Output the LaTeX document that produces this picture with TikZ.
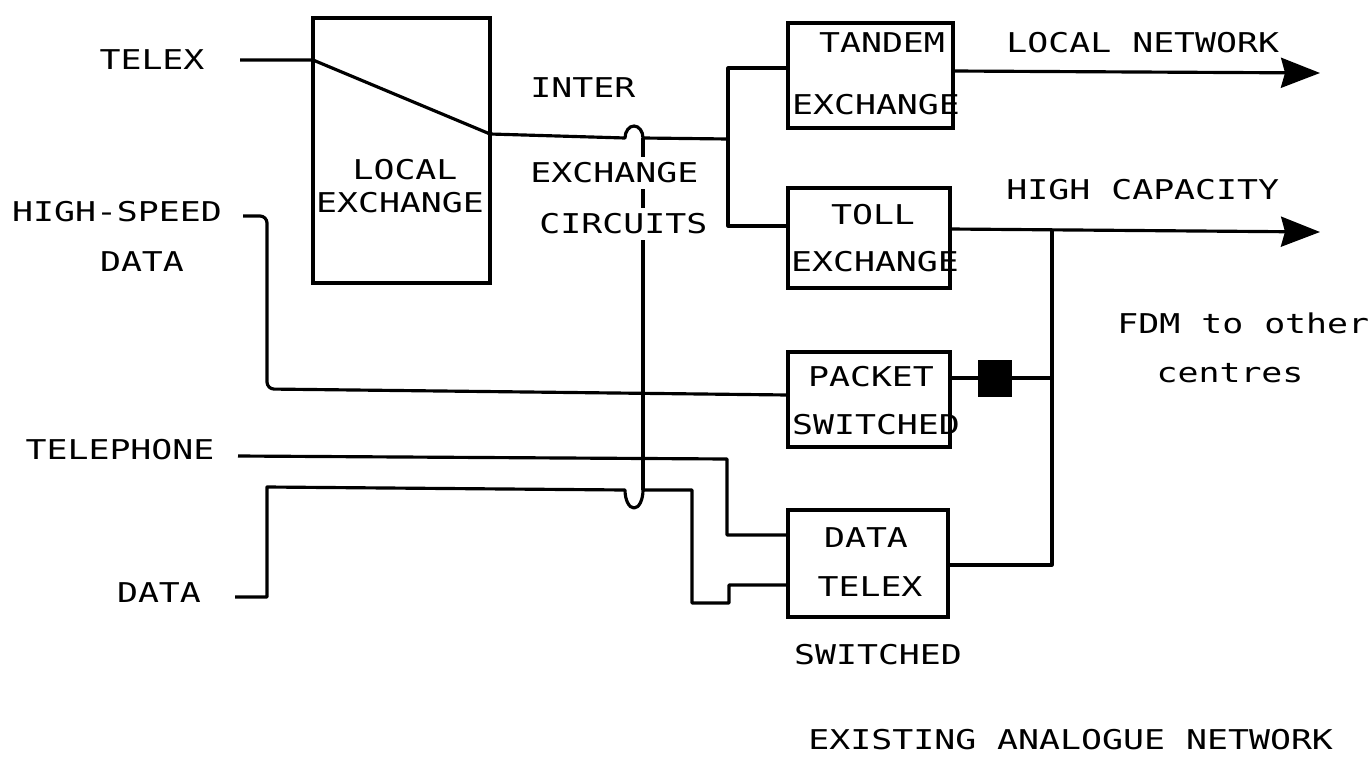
\documentclass[tikz,border=0pt]{standalone}
\usepackage{fontspec}
\newfontfamily\plotfont[FakeStretch=1.28]{DejaVu Sans Mono}
\usetikzlibrary{arrows.meta}
\tikzset{
  box/.style={draw, line width=1.8pt, rectangle, inner sep=0pt},
  wire/.style={line width=1.8pt, line join=round},
  arr/.style={wire, -{Stealth[length=0.78cm,width=0.6cm,inset=0.08cm]}},
  lbl/.style={font=\plotfont\fontsize{15.5}{17}\selectfont, inner sep=0pt, text=black},
  mask/.style={lbl, fill=white, inner ysep=3pt}
}
\begin{document}
\begin{tikzpicture}[x=0.02cm,y=-0.02cm]
\useasboundingbox (0,0) rectangle (1371,757);
% boxes
\node[box, minimum width=3.54cm, minimum height=5.3cm] (lex) at (401.5,150.5) {};
\node[box, minimum width=3.3cm, minimum height=2.1cm] (tan) at (870.5,75.5) {};
\node[box, minimum width=3.24cm, minimum height=2cm] (tol) at (869,238) {};
\node[box, minimum width=3.24cm, minimum height=1.9cm] (pkt) at (869,399.5) {};
\node[box, minimum width=3.2cm, minimum height=2.14cm] (dtx) at (868,563.5) {};
\node[draw, fill=black, minimum width=0.66cm, minimum height=0.72cm, inner sep=0pt] (blk) at (994.5,378) {};
% coordinates
\coordinate (telexS) at (240,60);
\coordinate (telexA) at (313,60);
\coordinate (telexB) at (490,134);
\coordinate (hopA) at (625,138);
\coordinate (j1) at (728,139);
\coordinate (tanIn) at (788,68);
\coordinate (tolIn) at (788,226);
\coordinate (vTop) at (643,138);
\coordinate (vBot) at (643,490);
\coordinate (tanOut) at (953,71);
\coordinate (lnEnd) at (1320,73);
\coordinate (tolOut) at (950,229);
\coordinate (hcEnd) at (1320,232);
\coordinate (j2) at (1052,229);
\coordinate (j3) at (1052,565);
\coordinate (dtxOut) at (948,565);
\coordinate (pktOut) at (950,378);
\coordinate (jp) at (1052,378);
\coordinate (hsS) at (243,216);
\coordinate (hsA) at (267,216);
\coordinate (hsB) at (267,389);
\coordinate (pktIn) at (788,395);
\coordinate (telS) at (238,456);
\coordinate (telA) at (727,459);
\coordinate (telB) at (727,535);
\coordinate (dtxIn1) at (788,535);
\coordinate (dS) at (235,597);
\coordinate (dA) at (267,597);
\coordinate (dB) at (267,487);
\coordinate (hopB) at (625,490);
\coordinate (dC) at (692,490);
\coordinate (dD) at (692,603);
\coordinate (dE) at (729,603);
\coordinate (dF) at (729,585);
\coordinate (dtxIn2) at (788,585);
% connectors
\draw[wire] (vTop) -- (vBot);
\draw[wire] (telexS) -- (telexA) -- (telexB) -- (hopA) arc[start angle=180,end angle=360,x radius=9,y radius=12] -- (j1);
\draw[wire] (tanIn) -| (j1) |- (tolIn);
\draw[arr] (tanOut) -- (lnEnd);
\draw[arr] (tolOut) -- (hcEnd);
\draw[wire] (j2) -- (j3) -- (dtxOut);
\draw[wire] (pktOut) -- (blk);
\draw[wire] (blk) -- (jp);
\draw[wire, rounded corners=4pt] (hsS) -- (hsA) -- (hsB) -- (pktIn);
\draw[wire] (telS) -- (telA) -- (telB) -- (dtxIn1);
\draw[wire] (dS) -- (dA) -- (dB) -- (hopB) arc[start angle=180,end angle=0,x radius=9,y radius=18] -- (dC) -- (dD) -- (dE) -- (dF) -- (dtxIn2);
% labels
\node[lbl] (tTelex) at (152,60) {TELEX};
\node[lbl] (tHS) at (117,212) {HIGH-SPEED};
\node[lbl] (tHSD) at (142,262) {DATA};
\node[lbl] (tTel) at (120,450) {TELEPHONE};
\node[lbl] (tData) at (159,593) {DATA};
\node[lbl] (tLocal) at (405,170) {LOCAL};
\node[lbl] (tLex) at (400,203) {EXCHANGE};
\node[lbl, anchor=west] (tInter) at (530,88) {INTER};
\node[mask, anchor=west] (tIE) at (530,173) {EXCHANGE};
\node[mask, anchor=west] (tIC) at (539,224) {CIRCUITS};
\node[lbl] (tTan) at (882,43) {TANDEM};
\node[lbl] (tTanE) at (876,105) {EXCHANGE};
\node[lbl] (tTol) at (873,215) {TOLL};
\node[lbl] (tTolE) at (875,262) {EXCHANGE};
\node[lbl] (tPkt) at (871,377) {PACKET};
\node[lbl] (tPktS) at (876,425) {SWITCHED};
\node[lbl] (tDtD) at (866,538) {DATA};
\node[lbl] (tDtT) at (870,587) {TELEX};
\node[lbl] (tDtS) at (878,655) {SWITCHED};
\node[lbl, anchor=west] (tLN) at (1006,43) {LOCAL NETWORK};
\node[lbl, anchor=west] (tHC) at (1006,190) {HIGH CAPACITY};
\node[lbl, anchor=west] (tFDM) at (1117,323) {FDM to other};
\node[lbl] (tCen) at (1230,373) {centres};
\node[lbl, anchor=west] (tEx) at (808,740) {EXISTING ANALOGUE NETWORK};
\end{tikzpicture}
\end{document}
